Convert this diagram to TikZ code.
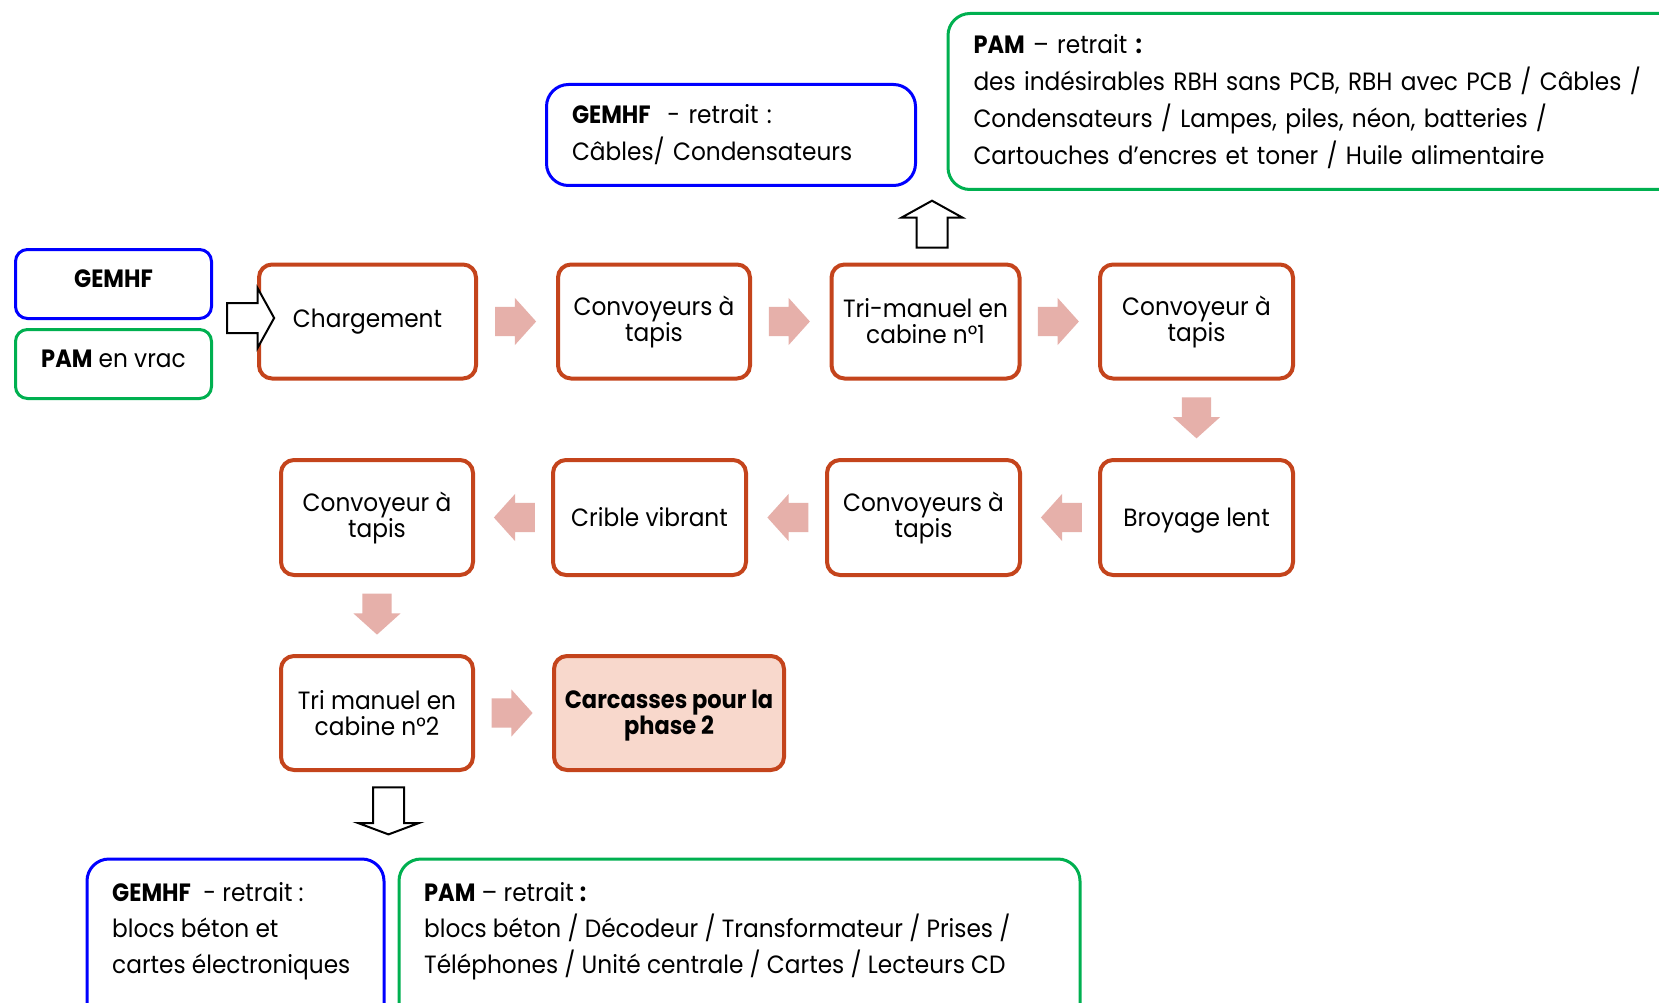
\documentclass[tikz,border=0pt]{standalone}
\usepackage{fontspec}
\setmainfont{Poppins}[FakeStretch=0.93, BoldFeatures={FakeStretch=0.9}]
\usetikzlibrary{shapes.arrows,calc}
\definecolor{boxred}{RGB}{196,68,28}
\definecolor{pinkarr}{RGB}{230,176,170}
\definecolor{carcfill}{RGB}{248,216,204}
\definecolor{gblue}{RGB}{0,0,255}
\definecolor{ggreen}{RGB}{0,176,80}
\begin{document}
\begin{tikzpicture}[x=1pt,y=-1pt,
  stepbox/.style={draw=boxred, line width=4pt, rounded corners=13pt, minimum width=193pt, minimum height=114pt, inner sep=0pt, align=center, font=\fontsize{25}{26}\selectfont, text=black},
  smallbox/.style={line width=3pt, rounded corners=12pt, minimum width=196pt, minimum height=69pt, inner sep=0pt, font=\fontsize{25}{30}\selectfont},
  tbox/.style={line width=3pt, rounded corners=22pt, inner xsep=25.5pt, inner ysep=0pt, align=left},
  btxt/.style={anchor=north west, inner sep=0pt, align=left, font=\fontsize{25}{36}\selectfont},
  parrow/.style={single arrow, fill=pinkarr, draw=none, minimum height=41pt, inner xsep=0pt, inner ysep=14.5pt, single arrow head extend=9pt, single arrow tip angle=96, single arrow head indent=0pt},
  parrowr/.style={parrow, xshift=-8pt},
  parrowl/.style={parrow, shape border rotate=180, xshift=8pt},
  parrowv/.style={parrow, shape border rotate=270, inner xsep=14.5pt, inner ysep=0pt, yshift=8pt},
  warrow/.style={single arrow, fill=white, draw=black, line width=2pt, minimum height=47pt, inner xsep=0pt, inner ysep=14pt, single arrow head extend=15pt, single arrow tip angle=122, single arrow head indent=0pt},
  warrowv/.style={warrow, inner xsep=14.5pt, inner ysep=0pt}
]
\useasboundingbox (0,0) rectangle (1659,1003);
\fill[white] (0,0) rectangle (1659,1003);
\clip (0,0) rectangle (1659,1003);

% left input boxes
\node[smallbox, draw=gblue] (gemhfL) at (113.5,284) {\raisebox{5pt}[\height][\depth]{\textbf{GEMHF}}};
\node[smallbox, draw=ggreen] (pamL) at (113.5,364) {\raisebox{5pt}[\height][\depth]{\textbf{PAM} en vrac}};

% process steps
\node[stepbox, minimum width=217pt] (charg) at (367.5,321.5) {Chargement};
\node[stepbox, minimum width=192pt] (conv1) at (654,321.5) {Convoyeurs à\\tapis};
\node[stepbox, minimum width=188pt] (tri1) at (925.5,321.5) {Tri-manuel en\\cabine n°1};
\node[stepbox] (conv2) at (1196.5,321.5) {Convoyeur à\\tapis};
\node[stepbox, minimum height=115pt] (broy) at (1196.5,517.5) {\raisebox{-3pt}[\height][\depth]{Broyage lent}};
\node[stepbox, minimum height=115pt] (conv3) at (923.5,517.5) {Convoyeurs à\\tapis};
\node[stepbox, minimum height=115pt] (crible) at (649.5,517.5) {Crible vibrant};
\node[stepbox, minimum height=115pt, minimum width=192pt] (conv4) at (377,517.5) {Convoyeur à\\tapis};
\node[stepbox, minimum width=192pt] (tri2) at (377,713) {Tri manuel en\\cabine n°2};
\node[stepbox, fill=carcfill, minimum width=230pt, font=\fontsize{25}{26}\selectfont\bfseries] (carc) at (669,713) {\raisebox{-3pt}[\height][\depth]{\begin{tabular}{@{}c@{}}Carcasses pour la\\phase 2\end{tabular}}};

% pink flow arrows
\node[parrowr] (a1) at ($(charg.east)!0.5!(conv1.west)$) {};
\node[parrowr] (a2) at ($(conv1.east)!0.5!(tri1.west)$) {};
\node[parrowr] (a3) at ($(tri1.east)!0.5!(conv2.west)$) {};
\node[parrowv] (a4) at ($(conv2.south)!0.5!(broy.north)$) {};
\node[parrowl] (a5) at ($(broy.west)!0.5!(conv3.east)$) {};
\node[parrowl] (a6) at ($(conv3.west)!0.5!(crible.east)$) {};
\node[parrowl] (a7) at ($(crible.west)!0.5!(conv4.east)$) {};
\node[parrowv] (a8) at ($(conv4.south)!0.5!(tri2.north)$) {};
\node[parrowr] (a9) at ($(tri2.east)!0.5!(carc.west)$) {};

% top output boxes
\node[tbox, draw=gblue, minimum width=369pt, minimum height=101pt, text width=318pt, font=\fontsize{25}{37}\selectfont] (gemhfT) at (731,135) {\textbf{GEMHF}~~- retrait :\\Câbles/ Condensateurs};
\node[tbox, draw=ggreen, minimum height=176pt, text width=720pt, anchor=west, font=\fontsize{25}{37}\selectfont] (pamT) at (946.5,101.5) {\textbf{PAM} – retrait \textbf{:}\\des indésirables RBH sans PCB, RBH avec PCB / Câbles /\\Condensateurs / Lampes, piles, néon, batteries /\\Cartouches d’encres et toner / Huile alimentaire};

% bottom output boxes
\node[tbox, draw=gblue, inner sep=0pt, minimum width=297pt, minimum height=180pt, anchor=north west] (gemhfB) at (85.5,857.5) {};
\node[btxt] (gemhfBt) at (112,882) {\textbf{GEMHF}~~- retrait :\\blocs béton et\\cartes électroniques};
\node[tbox, draw=ggreen, inner sep=0pt, minimum width=681pt, minimum height=180pt, anchor=north west] (pamB) at (397.5,857.5) {};
\node[btxt] (pamBt) at (424,882) {\textbf{PAM} – retrait \textbf{:}\\blocs béton / Décodeur / Transformateur / Prises /\\Téléphones / Unité centrale / Cartes / Lecteurs CD};

% white block arrows
\node[warrow, xshift=-3pt] (wR) at (249.5,318) {};
\node[warrowv, shape border rotate=90, yshift=-4pt] (wU) at (932,224.5) {};
\node[warrowv, shape border rotate=270, single arrow tip angle=139, yshift=2pt] (wD) at (388.5,810) {};
\end{tikzpicture}
\end{document}
